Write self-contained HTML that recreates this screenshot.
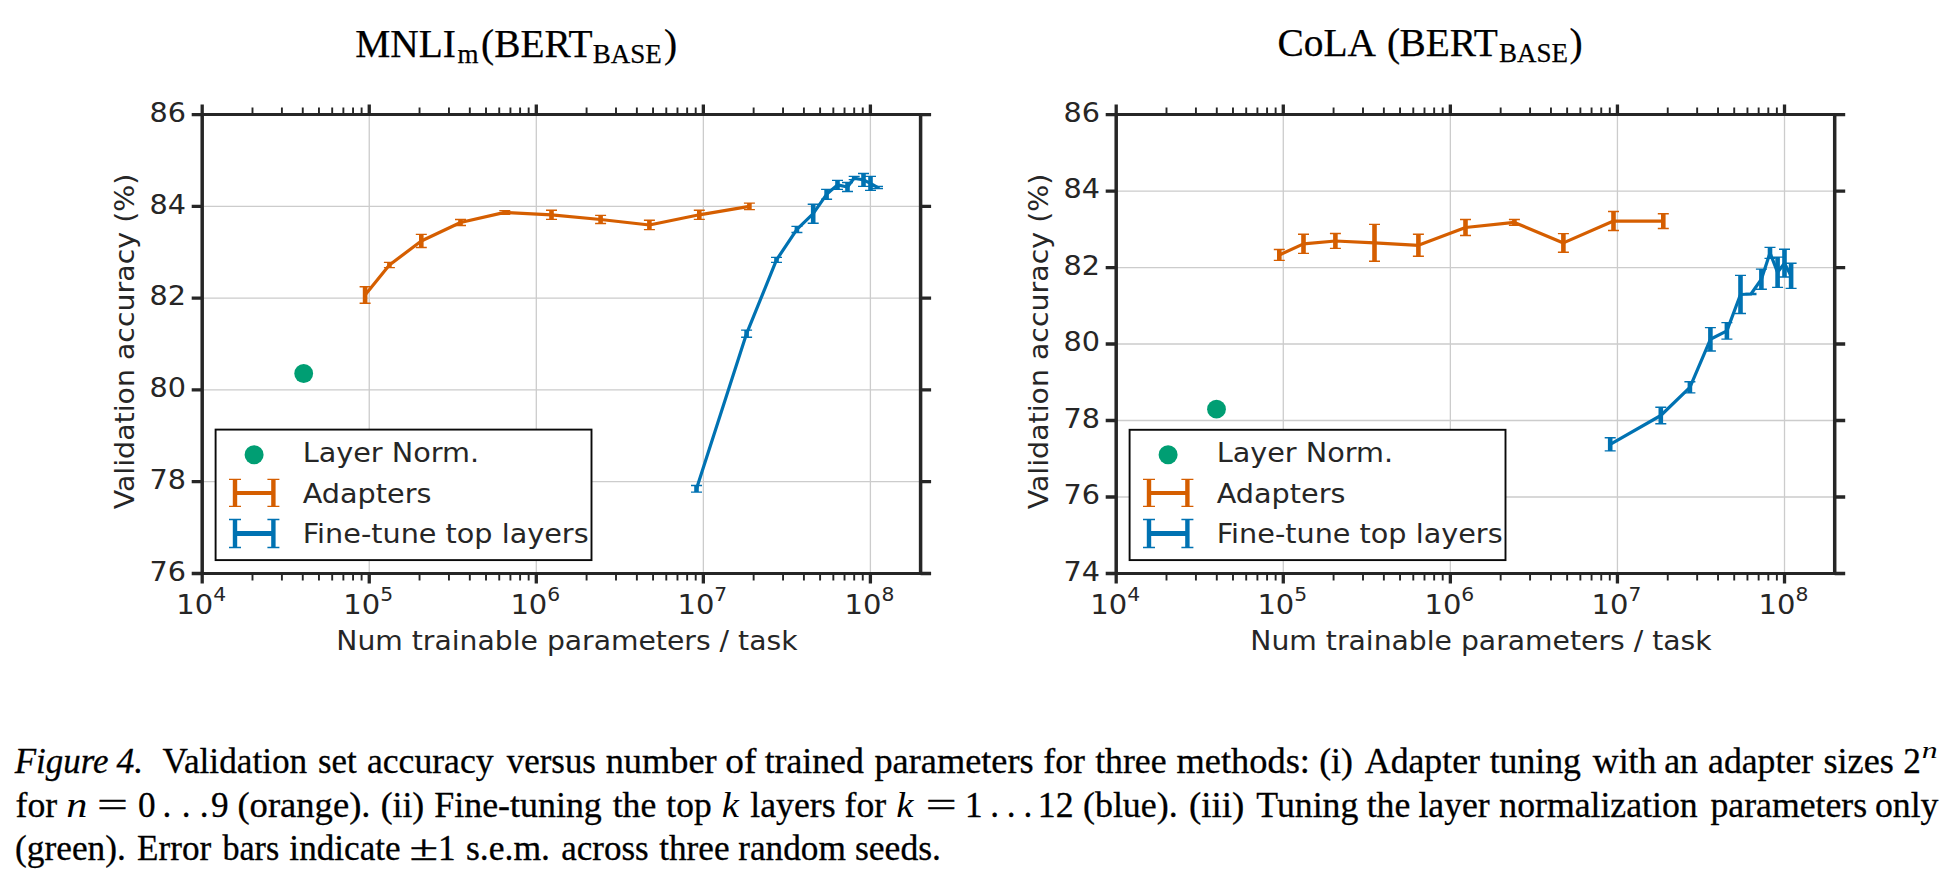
<!DOCTYPE html>
<html><head><meta charset="utf-8"><title>Figure 4</title>
<style>
html,body{margin:0;padding:0;background:#fff;}
body{width:1956px;height:892px;overflow:hidden;position:relative;}
svg{position:absolute;left:0;top:0;}
.t{font-family:"DejaVu Sans","Liberation Sans",sans-serif;font-size:27.2px;fill:#262626;}
.sup{font-size:19.04px;}
.ttl{font-family:"Liberation Serif","Times New Roman",serif;font-size:39.4px;fill:#000;stroke:#000;stroke-width:0.25px;}
.sub{font-size:27px;}
.c,.ci{font-family:"Liberation Serif","Times New Roman",serif;font-size:35.2px;fill:#000;stroke:#000;stroke-width:0.3px;}
.ci{font-style:italic;}
</style></head><body>
<svg width="1956" height="892" viewBox="0 0 1956 892">
<path d="M369.25 114.55V573.5M536.3 114.55V573.5M703.35 114.55V573.5M870.4 114.55V573.5M202.2 481.71H920.6M202.2 389.92H920.6M202.2 298.13H920.6M202.2 206.34H920.6" stroke="#cccccc" stroke-width="1.3" fill="none"/>
<path d="M365.1 295 L389.4 265 L421.3 241 L460.5 222.5 L504.8 212.4 L551.5 214.8 L600.6 219.5 L649.4 225 L699.3 214.8 L749.4 206.4" fill="none" stroke="#d55e00" stroke-width="3.2" stroke-linejoin="round" stroke-linecap="butt"/>
<path d="M365.1 286.7V303.2M389.4 262.4V267.6M421.3 234.4V247.5M460.5 219.5V225.5M504.8 210.6V214.2M551.5 210.2V219.4M600.6 215.4V223.5M649.4 220.3V229.6M699.3 210.2V219.4M749.4 203.1V209.6" stroke="#d55e00" stroke-width="4.6" fill="none"/>
<path d="M359.6 286.7H370.6M359.6 303.2H370.6M383.9 262.4H394.9M383.9 267.6H394.9M415.8 234.4H426.8M415.8 247.5H426.8M455 219.5H466M455 225.5H466M499.3 210.6H510.3M499.3 214.2H510.3M546 210.2H557M546 219.4H557M595.1 215.4H606.1M595.1 223.5H606.1M643.9 220.3H654.9M643.9 229.6H654.9M693.8 210.2H704.8M693.8 219.4H704.8M743.9 203.1H754.9M743.9 209.6H754.9" stroke="#d55e00" stroke-width="1.4" fill="none"/>
<path d="M696.5 488.8 L746.6 333.6 L776.5 259.9 L796.9 229.4 L813.2 213.6 L826.6 194.3 L837.5 184.9 L847.5 187 L854.2 178 L863.5 180 L870.5 183.4 L877.5 187.4" fill="none" stroke="#0072b2" stroke-width="3.2" stroke-linejoin="round" stroke-linecap="butt"/>
<path d="M696.5 485.5V492.1M746.6 330.1V337.2M776.5 257.4V262.4M796.9 226.4V232.5M813.2 204.2V223.3M826.6 189.4V199.3M837.5 180.4V189.4M847.5 182.5V191.5M854.2 176.4V179.6M863.5 173.5V186.4M870.5 176.4V190.4M877.5 186.4V188.5" stroke="#0072b2" stroke-width="4.6" fill="none"/>
<path d="M691 485.5H702M691 492.1H702M741.1 330.1H752.1M741.1 337.2H752.1M771 257.4H782M771 262.4H782M791.4 226.4H802.4M791.4 232.5H802.4M807.7 204.2H818.7M807.7 223.3H818.7M821.1 189.4H832.1M821.1 199.3H832.1M832 180.4H843M832 189.4H843M842 182.5H853M842 191.5H853M848.7 176.4H859.7M848.7 179.6H859.7M858 173.5H869M858 186.4H869M865 176.4H876M865 190.4H876M872 186.4H883M872 188.5H883" stroke="#0072b2" stroke-width="1.4" fill="none"/>
<circle cx="303.7" cy="373.5" r="9.4" fill="#009e73"/>
<rect x="215.6" y="429.6" width="375.9" height="130.5" fill="#fff" stroke="#0a0a0a" stroke-width="1.9"/>
<circle cx="254.1" cy="454.8" r="9.5" fill="#009e73"/>
<path d="M235 492.9H273.4" stroke="#d55e00" stroke-width="4.0"/>
<path d="M235 479.4V506.4M273.4 479.4V506.4" stroke="#d55e00" stroke-width="4.4"/>
<path d="M229 479.4H241M229 506.4H241M267.4 479.4H279.4M267.4 506.4H279.4" stroke="#d55e00" stroke-width="1.3"/>
<path d="M235 533.5H273.4" stroke="#0072b2" stroke-width="4.8"/>
<path d="M235 519.5V547.5M273.4 519.5V547.5" stroke="#0072b2" stroke-width="4.4"/>
<path d="M229 519.5H241M229 547.5H241M267.4 519.5H279.4M267.4 547.5H279.4" stroke="#0072b2" stroke-width="1.3"/>
<text transform="translate(302.7 461.9) scale(1.0550 1)" class="t">Layer Norm.</text>
<text transform="translate(302.7 502.8) scale(1.0550 1)" class="t">Adapters</text>
<text transform="translate(302.7 542.7) scale(1.0550 1)" class="t">Fine-tune top layers</text>
<path d="M202.2 113.05V575M920.6 113.05V575" stroke="#262626" stroke-width="3.5"/>
<path d="M202.2 114.55H920.6M202.2 573.5H920.6" stroke="#262626" stroke-width="2.9"/>
<path d="M191.7 573.5H202.2M920.6 573.5H931.1M191.7 481.71H202.2M920.6 481.71H931.1M191.7 389.92H202.2M920.6 389.92H931.1M191.7 298.13H202.2M920.6 298.13H931.1M191.7 206.34H202.2M920.6 206.34H931.1M191.7 114.55H202.2M920.6 114.55H931.1" stroke="#262626" stroke-width="3.3"/>
<path d="M202.2 573.5V583.5M202.2 114.55V104.55M369.25 573.5V583.5M369.25 114.55V104.55M536.3 573.5V583.5M536.3 114.55V104.55M703.35 573.5V583.5M703.35 114.55V104.55M870.4 573.5V583.5M870.4 114.55V104.55" stroke="#262626" stroke-width="3.3"/>
<path d="M252.49 573.5V580.5M252.49 114.55V107.55M281.9 573.5V580.5M281.9 114.55V107.55M302.77 573.5V580.5M302.77 114.55V107.55M318.96 573.5V580.5M318.96 114.55V107.55M332.19 573.5V580.5M332.19 114.55V107.55M343.37 573.5V580.5M343.37 114.55V107.55M353.06 573.5V580.5M353.06 114.55V107.55M361.61 573.5V580.5M361.61 114.55V107.55M419.54 573.5V580.5M419.54 114.55V107.55M448.95 573.5V580.5M448.95 114.55V107.55M469.82 573.5V580.5M469.82 114.55V107.55M486.01 573.5V580.5M486.01 114.55V107.55M499.24 573.5V580.5M499.24 114.55V107.55M510.42 573.5V580.5M510.42 114.55V107.55M520.11 573.5V580.5M520.11 114.55V107.55M528.66 573.5V580.5M528.66 114.55V107.55M586.59 573.5V580.5M586.59 114.55V107.55M616 573.5V580.5M616 114.55V107.55M636.87 573.5V580.5M636.87 114.55V107.55M653.06 573.5V580.5M653.06 114.55V107.55M666.29 573.5V580.5M666.29 114.55V107.55M677.47 573.5V580.5M677.47 114.55V107.55M687.16 573.5V580.5M687.16 114.55V107.55M695.71 573.5V580.5M695.71 114.55V107.55M753.64 573.5V580.5M753.64 114.55V107.55M783.05 573.5V580.5M783.05 114.55V107.55M803.92 573.5V580.5M803.92 114.55V107.55M820.11 573.5V580.5M820.11 114.55V107.55M833.34 573.5V580.5M833.34 114.55V107.55M844.52 573.5V580.5M844.52 114.55V107.55M854.21 573.5V580.5M854.21 114.55V107.55M862.76 573.5V580.5M862.76 114.55V107.55" stroke="#262626" stroke-width="1.9"/>
<text transform="translate(185.9 580.8) scale(1.0550 1)" class="t" text-anchor="end">76</text>
<text transform="translate(185.9 489.01) scale(1.0550 1)" class="t" text-anchor="end">78</text>
<text transform="translate(185.9 397.22) scale(1.0550 1)" class="t" text-anchor="end">80</text>
<text transform="translate(185.9 305.43) scale(1.0550 1)" class="t" text-anchor="end">82</text>
<text transform="translate(185.9 213.64) scale(1.0550 1)" class="t" text-anchor="end">84</text>
<text transform="translate(185.9 121.85) scale(1.0550 1)" class="t" text-anchor="end">86</text>
<text transform="translate(201.2 613.6) scale(1.0660 1)" class="t" text-anchor="middle">10<tspan class="sup" dy="-12.6">4</tspan></text>
<text transform="translate(368.25 613.6) scale(1.0660 1)" class="t" text-anchor="middle">10<tspan class="sup" dy="-12.6">5</tspan></text>
<text transform="translate(535.3 613.6) scale(1.0660 1)" class="t" text-anchor="middle">10<tspan class="sup" dy="-12.6">6</tspan></text>
<text transform="translate(702.35 613.6) scale(1.0660 1)" class="t" text-anchor="middle">10<tspan class="sup" dy="-12.6">7</tspan></text>
<text transform="translate(869.4 613.6) scale(1.0660 1)" class="t" text-anchor="middle">10<tspan class="sup" dy="-12.6">8</tspan></text>
<text transform="translate(566.9 650) scale(1.0380 1)" class="t" text-anchor="middle">Num trainable parameters / task</text>
<text transform="translate(134.2 341.52) rotate(-90) scale(1.0450 1)" class="t" text-anchor="middle">Validation accuracy (%)</text>
<path d="M1283.28 114.55V573.5M1450.36 114.55V573.5M1617.44 114.55V573.5M1784.52 114.55V573.5M1116.2 497.01H1834.7M1116.2 420.52H1834.7M1116.2 344.02H1834.7M1116.2 267.53H1834.7M1116.2 191.04H1834.7" stroke="#cccccc" stroke-width="1.3" fill="none"/>
<path d="M1279.3 255 L1303.5 243.9 L1335.4 241 L1374.5 242.8 L1418.4 245.3 L1465.5 227.5 L1514.4 222.4 L1563.4 242.9 L1613.5 221 L1663.3 221.1" fill="none" stroke="#d55e00" stroke-width="3.2" stroke-linejoin="round" stroke-linecap="butt"/>
<path d="M1279.3 249.5V260.4M1303.5 234.3V253.4M1335.4 233.5V248.4M1374.5 224.4V261.3M1418.4 234.3V256.2M1465.5 219.5V235.5M1514.4 219.5V225.2M1563.4 233.6V252.2M1613.5 211.5V230.5M1663.3 213.7V228.5" stroke="#d55e00" stroke-width="4.6" fill="none"/>
<path d="M1273.8 249.5H1284.8M1273.8 260.4H1284.8M1298 234.3H1309M1298 253.4H1309M1329.9 233.5H1340.9M1329.9 248.4H1340.9M1369 224.4H1380M1369 261.3H1380M1412.9 234.3H1423.9M1412.9 256.2H1423.9M1460 219.5H1471M1460 235.5H1471M1508.9 219.5H1519.9M1508.9 225.2H1519.9M1557.9 233.6H1568.9M1557.9 252.2H1568.9M1608 211.5H1619M1608 230.5H1619M1657.8 213.7H1668.8M1657.8 228.5H1668.8" stroke="#d55e00" stroke-width="1.4" fill="none"/>
<path d="M1610.2 444.3 L1660.8 415.5 L1689.9 387.3 L1710.4 339.3 L1726.9 330.9 L1740.5 294.5 L1751 294 L1761.4 279.2 L1770 252.9 L1777.6 272.3 L1784.5 263.2 L1791.1 275.9" fill="none" stroke="#0072b2" stroke-width="3.2" stroke-linejoin="round" stroke-linecap="butt"/>
<path d="M1610.2 437.8V450.9M1660.8 407.2V423.7M1689.9 381.8V392.9M1710.4 327.6V351M1726.9 322.6V339.1M1740.5 275.4V313.5M1751 293.4V294.6M1761.4 269.1V289.3M1770 247.4V258.4M1777.6 257.1V287.4M1784.5 249.3V277M1791.1 263.3V288.4" stroke="#0072b2" stroke-width="4.6" fill="none"/>
<path d="M1604.7 437.8H1615.7M1604.7 450.9H1615.7M1655.3 407.2H1666.3M1655.3 423.7H1666.3M1684.4 381.8H1695.4M1684.4 392.9H1695.4M1704.9 327.6H1715.9M1704.9 351H1715.9M1721.4 322.6H1732.4M1721.4 339.1H1732.4M1735 275.4H1746M1735 313.5H1746M1745.5 293.4H1756.5M1745.5 294.6H1756.5M1755.9 269.1H1766.9M1755.9 289.3H1766.9M1764.5 247.4H1775.5M1764.5 258.4H1775.5M1772.1 257.1H1783.1M1772.1 287.4H1783.1M1779 249.3H1790M1779 277H1790M1785.6 263.3H1796.6M1785.6 288.4H1796.6" stroke="#0072b2" stroke-width="1.4" fill="none"/>
<circle cx="1216.5" cy="409.2" r="9.4" fill="#009e73"/>
<rect x="1129.6" y="429.8" width="375.9" height="130.3" fill="#fff" stroke="#0a0a0a" stroke-width="1.9"/>
<circle cx="1168.1" cy="454.8" r="9.5" fill="#009e73"/>
<path d="M1149 492.9H1187.4" stroke="#d55e00" stroke-width="4.0"/>
<path d="M1149 479.4V506.4M1187.4 479.4V506.4" stroke="#d55e00" stroke-width="4.4"/>
<path d="M1143 479.4H1155M1143 506.4H1155M1181.4 479.4H1193.4M1181.4 506.4H1193.4" stroke="#d55e00" stroke-width="1.3"/>
<path d="M1149 533.5H1187.4" stroke="#0072b2" stroke-width="4.8"/>
<path d="M1149 519.5V547.5M1187.4 519.5V547.5" stroke="#0072b2" stroke-width="4.4"/>
<path d="M1143 519.5H1155M1143 547.5H1155M1181.4 519.5H1193.4M1181.4 547.5H1193.4" stroke="#0072b2" stroke-width="1.3"/>
<text transform="translate(1216.7 461.9) scale(1.0550 1)" class="t">Layer Norm.</text>
<text transform="translate(1216.7 502.8) scale(1.0550 1)" class="t">Adapters</text>
<text transform="translate(1216.7 542.7) scale(1.0550 1)" class="t">Fine-tune top layers</text>
<path d="M1116.2 113.05V575M1834.7 113.05V575" stroke="#262626" stroke-width="3.5"/>
<path d="M1116.2 114.55H1834.7M1116.2 573.5H1834.7" stroke="#262626" stroke-width="2.9"/>
<path d="M1105.7 573.5H1116.2M1834.7 573.5H1845.2M1105.7 497.01H1116.2M1834.7 497.01H1845.2M1105.7 420.52H1116.2M1834.7 420.52H1845.2M1105.7 344.02H1116.2M1834.7 344.02H1845.2M1105.7 267.53H1116.2M1834.7 267.53H1845.2M1105.7 191.04H1116.2M1834.7 191.04H1845.2M1105.7 114.55H1116.2M1834.7 114.55H1845.2" stroke="#262626" stroke-width="3.3"/>
<path d="M1116.2 573.5V583.5M1116.2 114.55V104.55M1283.28 573.5V583.5M1283.28 114.55V104.55M1450.36 573.5V583.5M1450.36 114.55V104.55M1617.44 573.5V583.5M1617.44 114.55V104.55M1784.52 573.5V583.5M1784.52 114.55V104.55" stroke="#262626" stroke-width="3.3"/>
<path d="M1166.5 573.5V580.5M1166.5 114.55V107.55M1195.92 573.5V580.5M1195.92 114.55V107.55M1216.79 573.5V580.5M1216.79 114.55V107.55M1232.98 573.5V580.5M1232.98 114.55V107.55M1246.21 573.5V580.5M1246.21 114.55V107.55M1257.4 573.5V580.5M1257.4 114.55V107.55M1267.09 573.5V580.5M1267.09 114.55V107.55M1275.63 573.5V580.5M1275.63 114.55V107.55M1333.58 573.5V580.5M1333.58 114.55V107.55M1363 573.5V580.5M1363 114.55V107.55M1383.87 573.5V580.5M1383.87 114.55V107.55M1400.06 573.5V580.5M1400.06 114.55V107.55M1413.29 573.5V580.5M1413.29 114.55V107.55M1424.48 573.5V580.5M1424.48 114.55V107.55M1434.17 573.5V580.5M1434.17 114.55V107.55M1442.71 573.5V580.5M1442.71 114.55V107.55M1500.66 573.5V580.5M1500.66 114.55V107.55M1530.08 573.5V580.5M1530.08 114.55V107.55M1550.95 573.5V580.5M1550.95 114.55V107.55M1567.14 573.5V580.5M1567.14 114.55V107.55M1580.37 573.5V580.5M1580.37 114.55V107.55M1591.56 573.5V580.5M1591.56 114.55V107.55M1601.25 573.5V580.5M1601.25 114.55V107.55M1609.79 573.5V580.5M1609.79 114.55V107.55M1667.74 573.5V580.5M1667.74 114.55V107.55M1697.16 573.5V580.5M1697.16 114.55V107.55M1718.03 573.5V580.5M1718.03 114.55V107.55M1734.22 573.5V580.5M1734.22 114.55V107.55M1747.45 573.5V580.5M1747.45 114.55V107.55M1758.64 573.5V580.5M1758.64 114.55V107.55M1768.33 573.5V580.5M1768.33 114.55V107.55M1776.87 573.5V580.5M1776.87 114.55V107.55" stroke="#262626" stroke-width="1.9"/>
<text transform="translate(1099.9 580.8) scale(1.0550 1)" class="t" text-anchor="end">74</text>
<text transform="translate(1099.9 504.31) scale(1.0550 1)" class="t" text-anchor="end">76</text>
<text transform="translate(1099.9 427.82) scale(1.0550 1)" class="t" text-anchor="end">78</text>
<text transform="translate(1099.9 351.32) scale(1.0550 1)" class="t" text-anchor="end">80</text>
<text transform="translate(1099.9 274.83) scale(1.0550 1)" class="t" text-anchor="end">82</text>
<text transform="translate(1099.9 198.34) scale(1.0550 1)" class="t" text-anchor="end">84</text>
<text transform="translate(1099.9 121.85) scale(1.0550 1)" class="t" text-anchor="end">86</text>
<text transform="translate(1115.2 613.6) scale(1.0660 1)" class="t" text-anchor="middle">10<tspan class="sup" dy="-12.6">4</tspan></text>
<text transform="translate(1282.28 613.6) scale(1.0660 1)" class="t" text-anchor="middle">10<tspan class="sup" dy="-12.6">5</tspan></text>
<text transform="translate(1449.36 613.6) scale(1.0660 1)" class="t" text-anchor="middle">10<tspan class="sup" dy="-12.6">6</tspan></text>
<text transform="translate(1616.44 613.6) scale(1.0660 1)" class="t" text-anchor="middle">10<tspan class="sup" dy="-12.6">7</tspan></text>
<text transform="translate(1783.52 613.6) scale(1.0660 1)" class="t" text-anchor="middle">10<tspan class="sup" dy="-12.6">8</tspan></text>
<text transform="translate(1480.95 650) scale(1.0380 1)" class="t" text-anchor="middle">Num trainable parameters / task</text>
<text transform="translate(1048.2 341.52) rotate(-90) scale(1.0450 1)" class="t" text-anchor="middle">Validation accuracy (%)</text>
<text y="56.9" class="ttl"><tspan x="355.2">MNLI</tspan><tspan class="sub" x="457.5" y="62.6">m</tspan><tspan x="481.0" y="56.9">(</tspan><tspan x="494.2">BERT</tspan><tspan class="sub" x="592.8" y="62.6">BASE</tspan><tspan x="664.0" y="56.9">)</tspan></text>
<text y="56.3" class="ttl"><tspan x="1277.6">CoLA</tspan><tspan x="1386.9">(</tspan><tspan x="1399.4">BERT</tspan><tspan class="sub" x="1499.0" y="62.0">BASE</tspan><tspan x="1569.4" y="56.3">)</tspan></text>
<text transform="translate(14.69 773.00) scale(0.993 1)" class="ci">Figure</text>
<text transform="translate(116.41 773.00) scale(1.015 1)" class="ci">4.</text>
<text transform="translate(162.40 773.00) scale(1.001 1)" class="c">Validation</text>
<text transform="translate(317.97 773.00) scale(0.990 1)" class="c">set</text>
<text transform="translate(366.95 773.00) scale(1.013 1)" class="c">accuracy</text>
<text transform="translate(506.80 773.00) scale(0.991 1)" class="c">versus</text>
<text transform="translate(605.67 773.00) scale(1.033 1)" class="c">number</text>
<text transform="translate(725.28 773.00) scale(1.059 1)" class="c">of</text>
<text transform="translate(764.65 773.00) scale(1.015 1)" class="c">trained</text>
<text transform="translate(874.41 773.00) scale(1.032 1)" class="c">parameters</text>
<text transform="translate(1043.30 773.00) scale(1.015 1)" class="c">for</text>
<text transform="translate(1095.15 773.00) scale(1.015 1)" class="c">three</text>
<text transform="translate(1176.54 773.00) scale(1.034 1)" class="c">methods:</text>
<text transform="translate(1319.23 773.00) scale(1.015 1)" class="c">(i)</text>
<text transform="translate(1364.85 773.00) scale(1.015 1)" class="c">Adapter</text>
<text transform="translate(1489.65 773.00) scale(1.015 1)" class="c">tuning</text>
<text transform="translate(1592.87 773.00) scale(1.015 1)" class="c">with</text>
<text transform="translate(1664.14 773.00) scale(1.015 1)" class="c">an</text>
<text transform="translate(1708.04 773.00) scale(1.015 1)" class="c">adapter</text>
<text transform="translate(1823.52 773.00) scale(1.027 1)" class="c">sizes</text>
<text x="1903.15" y="773.00" class="c">2</text>
<text transform="translate(15.50 816.90) scale(1.015 1)" class="c">for</text>
<text transform="translate(66.19 816.90) scale(1.200 1)" class="ci" style="stroke-width:0">n</text>
<text transform="translate(96.97 816.90) scale(1.560 1)" class="c">=</text>
<text x="137.96" y="816.90" class="c">0</text>
<text x="162.58" y="816.90" class="c">.</text>
<text x="181.68" y="816.90" class="c">.</text>
<text x="199.68" y="816.90" class="c">.</text>
<text x="211.07" y="816.90" class="c">9</text>
<text transform="translate(237.39 816.90) scale(1.040 1)" class="c">(orange).</text>
<text transform="translate(380.63 816.90) scale(1.015 1)" class="c">(ii)</text>
<text transform="translate(434.27 816.90) scale(1.020 1)" class="c">Fine-tuning</text>
<text transform="translate(612.65 816.90) scale(1.015 1)" class="c">the</text>
<text transform="translate(666.35 816.90) scale(1.007 1)" class="c">top</text>
<text transform="translate(721.78 816.90) scale(1.100 1)" class="ci" style="stroke-width:0">k</text>
<text transform="translate(750.28 816.90) scale(1.015 1)" class="c">layers</text>
<text transform="translate(844.50 816.90) scale(1.015 1)" class="c">for</text>
<text transform="translate(896.28 816.90) scale(1.100 1)" class="ci" style="stroke-width:0">k</text>
<text transform="translate(925.87 816.90) scale(1.560 1)" class="c">=</text>
<text x="965.11" y="816.90" class="c">1</text>
<text x="990.18" y="816.90" class="c">.</text>
<text x="1006.68" y="816.90" class="c">.</text>
<text x="1023.38" y="816.90" class="c">.</text>
<text transform="translate(1037.86 816.90) scale(1.015 1)" class="c">12</text>
<text transform="translate(1082.92 816.90) scale(1.022 1)" class="c">(blue).</text>
<text transform="translate(1188.98 816.90) scale(1.048 1)" class="c">(iii)</text>
<text transform="translate(1256.35 816.90) scale(1.015 1)" class="c">Tuning</text>
<text transform="translate(1366.65 816.90) scale(1.015 1)" class="c">the</text>
<text transform="translate(1418.38 816.90) scale(1.015 1)" class="c">layer</text>
<text transform="translate(1499.28 816.90) scale(1.015 1)" class="c">normalization</text>
<text transform="translate(1710.42 816.90) scale(1.015 1)" class="c">parameters</text>
<text transform="translate(1874.94 816.90) scale(1.015 1)" class="c">only</text>
<text transform="translate(15.05 860.10) scale(1.004 1)" class="c">(green).</text>
<text transform="translate(136.99 860.10) scale(0.999 1)" class="c">Error</text>
<text transform="translate(222.40 860.10) scale(0.969 1)" class="c">bars</text>
<text transform="translate(289.36 860.10) scale(0.999 1)" class="c">indicate</text>
<text transform="translate(409.44 860.10) scale(1.480 1)" class="c">&#177;</text>
<text x="437.91" y="860.10" class="c">1</text>
<text transform="translate(465.94 860.10) scale(1.012 1)" class="c">s.e.m.</text>
<text transform="translate(561.27 860.10) scale(0.994 1)" class="c">across</text>
<text x="659.26" y="860.10" class="c">three</text>
<text transform="translate(738.19 860.10) scale(1.001 1)" class="c">random</text>
<text transform="translate(854.94 860.10) scale(1.013 1)" class="c">seeds.</text>
<text transform="translate(1921.80 757.90) scale(1.32 1)" class="ci" style="font-size:24px;stroke-width:0">n</text>
</svg>
</body></html>
